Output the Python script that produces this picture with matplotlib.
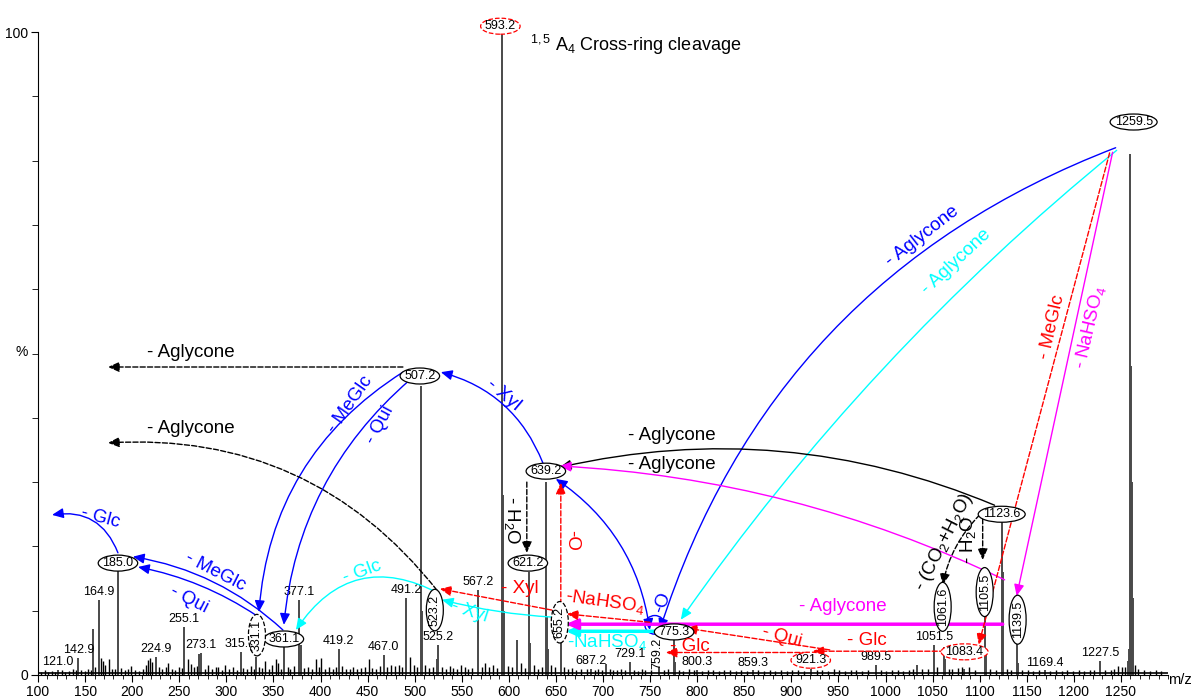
import matplotlib.pyplot as plt
from matplotlib.patches import Ellipse, FancyArrowPatch
from matplotlib.ticker import MultipleLocator, FixedLocator

plt.rcParams['font.family'] = ['Liberation Sans', 'DejaVu Sans']
plt.rcParams['mathtext.fontset'] = 'custom'
plt.rcParams['mathtext.rm'] = 'Liberation Sans'
plt.rcParams['mathtext.it'] = 'Liberation Sans:italic'

# main peaks, m/z and relative intensity (%)
main_mz = [121.0, 142.9, 158.9, 164.9, 185.0, 224.9, 255.1, 271.1, 273.1, 315.1,
           331.1, 361.1, 377.1, 379.1, 419.2, 467.0, 491.2, 507.2, 508.2, 523.2,
           525.2, 567.2, 593.2, 594.2, 595.2, 609.2, 621.2, 622.2, 639.2, 640.2,
           641.2, 655.2, 687.2, 703.2, 729.1, 759.2, 775.3, 776.3, 800.3, 859.3,
           921.3, 989.5, 1033.5, 1051.5, 1061.6, 1063.5, 1083.4, 1105.5, 1106.5, 1123.6,
           1124.6, 1139.5, 1140.5, 1169.4, 1227.5, 1257.5, 1258.5, 1259.5, 1260.5, 1261.5,
           1262.5]
main_int = [0.8, 2.6, 7.2, 11.7, 16.3, 2.8, 7.5, 3.2, 3.4, 3.6,
            2.8, 4.5, 11.7, 4.6, 4.0, 3.1, 12.0, 45.0, 10.0, 2.5,
            4.7, 13.2, 100.0, 28.0, 10.0, 5.4, 16.0, 5.0, 30.0, 9.0,
            4.0, 6.0, 0.9, 1.7, 2.0, 1.2, 6.0, 2.0, 0.8, 0.7,
            0.9, 1.6, 1.6, 4.7, 4.4, 2.5, 1.0, 9.3, 3.5, 24.0,
            16.0, 5.0, 1.8, 0.7, 2.2, 2.2, 4.0, 81.0, 48.0, 30.0,
            12.0]

# small baseline peaks (m/z, %)
noise = [(103, 0.5), (107, 0.7), (111, 0.4), (115, 0.6), (118, 0.5), (125, 0.7), (129, 0.5),
         (133, 0.6), (137, 0.9), (140, 0.7), (146, 0.8), (150, 0.6), (153, 1.0), (156, 0.8),
         (161, 1.2), (167, 2.6), (169, 2.2), (171, 1.5), (175, 2.5), (179, 1.0), (182, 0.9),
         (188, 1.1), (192, 0.7), (196, 0.9), (199, 1.4), (203, 0.8), (207, 0.6), (211, 1.0),
         (215, 1.5), (217, 2.4), (219, 2.6), (221, 2.0), (228, 1.2), (232, 0.9), (236, 1.3),
         (238, 1.9), (242, 1.0), (246, 0.8), (250, 1.3), (253, 1.1), (259, 2.5), (263, 1.7),
         (266, 1.2), (269, 1.4), (277, 1.0), (281, 1.5), (285, 0.9), (289, 1.3), (291, 1.2),
         (295, 0.8), (299, 1.5), (303, 1.0), (307, 1.2), (311, 0.8), (318, 1.1), (322, 0.9),
         (326, 1.4), (329, 1.0), (335, 1.3), (338, 1.1), (341, 2.2), (345, 1.0), (349, 1.6),
         (353, 2.5), (355, 1.8), (358, 1.0), (365, 1.3), (368, 1.0), (372, 1.4), (383, 1.1),
         (387, 1.3), (391, 0.9), (395, 2.5), (398, 1.2), (401, 2.6), (405, 1.0), (409, 1.2),
         (413, 0.9), (416, 1.3), (423, 1.4), (427, 1.0), (431, 0.9), (435, 1.2), (439, 1.0),
         (443, 1.1), (447, 1.3), (451, 2.5), (455, 1.1), (459, 0.9), (463, 1.4), (471, 1.2),
         (475, 1.6), (479, 1.4), (483, 1.5), (487, 1.2), (495, 2.8), (499, 1.6), (503, 1.3),
         (511, 1.5), (515, 1.1), (519, 1.3), (529, 1.2), (533, 1.0), (537, 1.4), (541, 1.1),
         (545, 0.9), (549, 1.5), (553, 1.2), (557, 0.9), (561, 1.1), (571, 1.3), (575, 1.9),
         (579, 1.2), (583, 1.5), (587, 1.1), (599, 1.4), (603, 1.2), (613, 1.8), (617, 1.1),
         (627, 1.6), (631, 1.0), (635, 1.3), (645, 1.5), (649, 1.2), (659, 1.3), (663, 0.9),
         (667, 1.1), (671, 0.8), (677, 0.9), (683, 1.0), (691, 0.8), (695, 0.9), (699, 0.7),
         (707, 0.9), (711, 0.7), (715, 0.8), (719, 0.9), (723, 0.7), (733, 0.8), (737, 0.6),
         (741, 0.9), (745, 0.7), (751, 0.8), (765, 0.7), (769, 0.9), (781, 0.8), (785, 0.6),
         (791, 0.9), (797, 0.7), (805, 0.6), (811, 0.8), (817, 0.7), (823, 0.6), (829, 0.8),
         (835, 0.7), (841, 0.6), (847, 0.8), (853, 0.6), (865, 0.7), (871, 0.6), (877, 0.8),
         (883, 0.6), (889, 0.7), (895, 0.6), (901, 0.8), (907, 0.7), (913, 0.6), (927, 0.8),
         (933, 0.7), (939, 0.6), (945, 0.9), (951, 0.7), (957, 0.6), (963, 0.8), (969, 0.7),
         (975, 0.6), (981, 0.8), (995, 0.7), (1001, 0.6), (1007, 0.8), (1013, 0.7), (1019, 0.6),
         (1025, 0.8), (1029, 0.9), (1039, 1.0), (1045, 0.9), (1055, 1.2), (1067, 0.9),
         (1071, 1.0), (1077, 1.1), (1081, 1.3), (1089, 1.2), (1095, 0.8), (1111, 1.0),
         (1117, 0.8), (1129, 0.9), (1133, 0.8), (1145, 0.7), (1151, 0.8), (1157, 0.6),
         (1163, 0.7), (1175, 0.6), (1181, 0.7), (1187, 0.6), (1193, 0.7), (1199, 0.6),
         (1205, 0.7), (1211, 0.6), (1217, 0.8), (1221, 0.7), (1233, 0.7), (1239, 0.8),
         (1243, 1.0), (1247, 1.4), (1251, 1.2), (1254, 1.3), (1265, 1.5), (1268, 1.0),
         (1275, 0.7), (1281, 0.6), (1287, 0.7), (1293, 0.6)]
noise_mz = [p[0] for p in noise]
noise_int = [p[1] for p in noise]

# peaks carrying a plain numeric label
plain_labels = ['121.0', '142.9', '164.9', '224.9', '255.1', '273.1', '315.1', '377.1',
                '419.2', '467.0', '491.2', '525.2', '567.2', '687.2', '729.1', '800.3',
                '859.3', '989.5', '1051.5', '1169.4', '1227.5']

PX_X = 1130 / 1200.0   # px per m/z unit
PX_Y = 643 / 100.0     # px per % unit

fig = plt.figure(figsize=(11.95, 6.97), dpi=100)
ax = fig.add_axes([38 / 1195, 22 / 697, 1130 / 1195, 643 / 697])

ax.vlines(noise_mz, 0, noise_int, color='black', lw=1.0, zorder=1)
ax.vlines(main_mz, 0, main_int, color='#4a4a4a', lw=1.4, zorder=1)
ax.plot([100, 1300], [0.3, 0.3], color='black', lw=1.2, zorder=1)

for lab in plain_labels:
    m = float(lab)
    h = main_int[main_mz.index(m)]
    ax.text(m, h + 0.3, lab, ha='center', va='bottom', fontsize=9, zorder=3)

ax.set_xlim(100, 1300)
ax.set_ylim(0, 100)
for s in ['top', 'right']:
    ax.spines[s].set_visible(False)
ax.xaxis.set_major_locator(FixedLocator(list(range(100, 1251, 50))))
ax.xaxis.set_minor_locator(MultipleLocator(10))
ax.yaxis.set_major_locator(FixedLocator([0, 100]))
ax.yaxis.set_minor_locator(MultipleLocator(10))
ax.tick_params(axis='both', which='major', direction='out', length=5, labelsize=10, pad=2)
ax.tick_params(axis='both', which='minor', direction='out', length=3)
ax.tick_params(axis='y', which='minor', length=4)
fig.text(22 / 1195, 1 - 352 / 697, '%', ha='center', va='center', fontsize=10)
fig.text(1180 / 1195, 1 - 680 / 697, 'm/z', ha='center', va='center', fontsize=10.5)


def node(txt, x, y, vertical=False, ec='black', ls='-'):
    n = len(txt)
    if vertical:
        w, h = 17 / PX_X, (7.5 * n + 4) / PX_Y
    else:
        w, h = (7.5 * n + 2) / PX_X, 16 / PX_Y
    ax.add_patch(Ellipse((x, y), w, h, fc='white', ec=ec, lw=0.9, ls=ls, zorder=5,
                         clip_on=False))
    ax.text(x, y, txt, ha='center', va='center', fontsize=9,
            rotation=90 if vertical else 0, zorder=6)


def arrow(p0, p1, color, rad=0.0, ls='-', lw=1.0, style='-|>'):
    a = FancyArrowPatch(p0, p1, arrowstyle=style + ',head_length=0.45,head_width=0.2',
                        mutation_scale=15, connectionstyle=f'arc3,rad={rad}',
                        color=color, lw=lw, linestyle=ls, shrinkA=0, shrinkB=0,
                        zorder=4, clip_on=False)
    ax.add_patch(a)


def label(txt, x, y, rot, color, size=13.5):
    ax.text(x, y, txt, ha='center', va='center', rotation=rot, rotation_mode='anchor',
            color=color, fontsize=size, zorder=7)


# blue pathway
arrow((1244.4, 82.0), (760.3, 7.0), 'blue', 0.24)
arrow((749.7, 7.0), (649.9, 30.5), 'blue', 0.22, style='<|-|>')
arrow((636.1, 33.0), (527.8, 47.1), 'blue', 0.25)
arrow((487.5, 47.1), (334.6, 9.8), 'blue', 0.25)
arrow((494.9, 45.9), (361.1, 7.8), 'blue', 0.2)
arrow((360.1, 7.0), (200.8, 18.4), 'blue', 0.15)
arrow((332.5, 9.2), (206.2, 16.8), 'blue', 0.1)
arrow((184.9, 19.0), (114.9, 24.9), 'blue', 0.4)
ax.add_patch(Ellipse((755, 7.8), 21, 2.9, fc='none', ec='blue', lw=1.0, zorder=4))

# cyan pathway
arrow((1245.5, 81.6), (782.6, 8.6), 'cyan', 0.07)
arrow((760.3, 6.8), (660.5, 6.8), 'cyan', 0.0, lw=2.5)
arrow((646.7, 9.0), (528.9, 11.7), 'cyan', -0.05)
arrow((526.8, 12.6), (373.9, 7.0), 'cyan', 0.45)

# black pathway
arrow((1115.9, 26.4), (654.1, 32.3), 'black', 0.16)
arrow((1103.2, 24.3), (1103.2, 17.9), 'black', 0.0, ls='--')
arrow((1100.0, 24.9), (1060.7, 14.0), 'black', 0.15, ls='--')
arrow((619.1, 30.0), (619.1, 19.0), 'black', 0.0, ls='--')
arrow((487.5, 47.9), (174.3, 47.9), 'black', 0.0, ls='--')
arrow((523.6, 13.2), (174.3, 36.1), 'black', 0.26, ls='--')

# magenta pathway
arrow((1241.2, 81.3), (1139.3, 12.3), 'magenta', 0.0)
arrow((1126.5, 14.8), (654.1, 32.5), 'magenta', 0.1)
arrow((1124.4, 7.9), (660.5, 7.9), 'magenta', 0.0, lw=2.5)

# red pathway
arrow((1238.0, 81.2), (1098.9, 4.7), 'red', 0.0, ls='--')
arrow((1062.8, 3.7), (922.7, 3.7), 'red', 0.0, ls='--')
arrow((917.0, 3.5), (766.7, 3.5), 'red', 0.0, ls='--')
arrow((940.8, 3.9), (787.9, 7.3), 'red', 0.0, ls='--')
arrow((749.7, 8.2), (661.6, 9.5), 'red', 0.0, ls='--')
arrow((645.6, 10.1), (526.8, 13.4), 'red', 0.0, ls='--')
arrow((655.2, 11.0), (655.2, 29.9), 'red', 0.0, ls='--')

nodes = [('593.2', 591.0, 100.9, False, 'red', '--'),
         ('1259.5', 1263.5, 86.0, False, 'black', '-'),
         ('507.2', 505.5, 46.5, False, 'black', '-'),
         ('639.2', 639.3, 31.7, False, 'black', '-'),
         ('1123.6', 1123.4, 25.0, False, 'black', '-'),
         ('185.0', 184.9, 17.4, False, 'black', '-'),
         ('621.2', 620.2, 17.4, False, 'black', '-'),
         ('361.1', 361.1, 5.6, False, 'black', '-'),
         ('775.3', 775.5, 6.7, False, 'black', '-'),
         ('1139.5', 1140.3, 8.6, True, 'black', '-'),
         ('1105.5', 1105.3, 12.9, True, 'black', '-'),
         ('1061.6', 1060.7, 10.6, True, 'black', '-'),
         ('655.2', 654.1, 8.2, True, 'black', '--'),
         ('523.2', 521.4, 10.1, True, 'black', '-'),
         ('331.1', 332.5, 6.2, True, 'black', '--'),
         ('921.3', 920.6, 2.3, False, 'red', '--'),
         ('1083.4', 1084.0, 3.6, False, 'red', '--')]
for t, x, y, v, ec, ls in nodes:
    node(t, x, y, v, ec, ls)
ax.text(758.2, 3.4, '759.2', ha='center', va='center', rotation=90, fontsize=9, zorder=6)

label('- Aglycone', 1038.7, 68.2, 38, 'blue')
label('- Aglycone', 1074.8, 64.2, 43, 'cyan')
label('- MeGlc', 1176.8, 54.1, 77, 'red')
label('- NaHSO$_4$', 1216.8, 54.1, 77, 'magenta')
label('- Xyl', 593.8, 43.5, -40, 'blue', 14)
label('- MeGlc', 431.0, 42.0, 55, 'blue')
label('- Qui', 463.1, 38.9, 62, 'blue')
label('- Aglycone', 262.0, 50.1, 0, 'black')
label('- Aglycone', 262.0, 38.3, 0, 'black')
label('- Glc', 165.8, 24.4, -15, 'blue')
label('- MeGlc', 288.0, 16.0, -27, 'blue')
label('- Qui', 260.3, 11.7, -27, 'blue')
label('- Glc', 443.9, 16.0, 20, 'cyan')
label('- Xyl', 558.6, 9.8, -18, 'cyan')
label('- Xyl', 611.7, 13.5, 0, 'red')
label('-NaHSO$_4$', 701.9, 11.4, -8, 'red')
label('-NaHSO$_4$', 704.0, 5.1, 0, 'cyan')
label('-O', 763.5, 11.2, 70, 'blue')
label('- Glc', 792.1, 4.4, 0, 'red')
label('- Qui', 889.8, 5.9, -15, 'red')
label('- Glc', 980.0, 5.4, 0, 'red')
label('- Aglycone', 954.6, 10.6, 0, 'magenta')
label('-O', 666.9, 21.0, -90, 'red')
label('- H$_2$O', 603.2, 24.1, -90, 'black')
label('- H$_2$O', 1087.3, 21.0, 90, 'black')
label('- (CO$_2$+H$_2$O)', 1062.8, 20.7, 63, 'black')
label('- Aglycone', 773.0, 37.3, 0, 'black')
label('- Aglycone', 773.0, 32.7, 0, 'black')

ax.text(622, 98, r'$^{1,5}$ A$_4$ Cross-ring cleavage', ha='left', va='center', fontsize=13)

fig.savefig('out.png', dpi=100)
